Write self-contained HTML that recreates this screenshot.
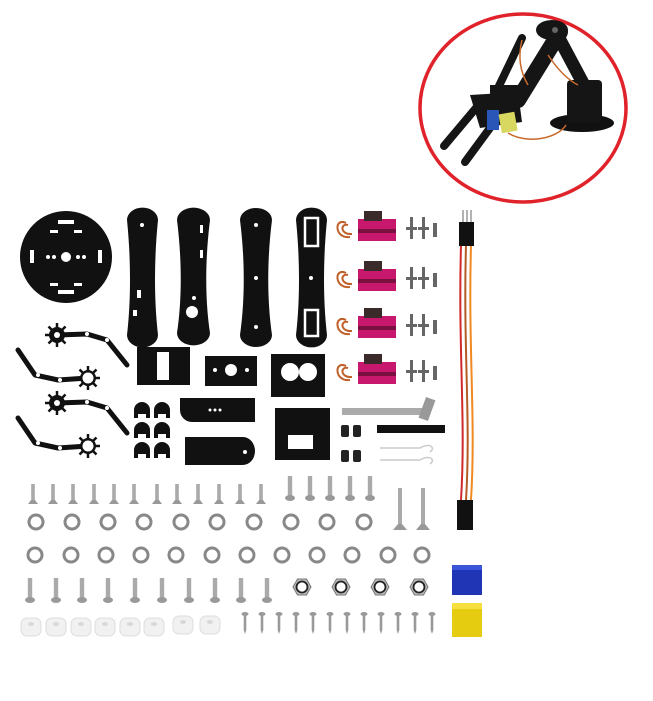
<!DOCTYPE html>
<html><head><meta charset="utf-8"><style>html,body{margin:0;padding:0;background:#fff}svg{display:block}</style></head>
<body>
<svg width="653" height="701" viewBox="0 0 653 701" xmlns="http://www.w3.org/2000/svg">
<defs>
<g id="gearA"><circle r="8" fill="#111"/><g stroke="#111" stroke-width="2.5"><line x1="-12" y1="0" x2="12" y2="0"/><line x1="0" y1="-12" x2="0" y2="12"/><line x1="-8.5" y1="-8.5" x2="8.5" y2="8.5"/><line x1="-8.5" y1="8.5" x2="8.5" y2="-8.5"/></g><circle r="3" fill="#fff"/></g>
<g id="gearB"><g stroke="#111" stroke-width="2.5"><line x1="-12" y1="0" x2="12" y2="0"/><line x1="0" y1="-12" x2="0" y2="12"/><line x1="-8.5" y1="-8.5" x2="8.5" y2="8.5"/><line x1="-8.5" y1="8.5" x2="8.5" y2="-8.5"/></g><circle r="8" fill="#111"/><circle r="5.5" fill="#fff"/></g>
<g id="servo"><path d="M-4,8 c-12,-6 -12,16 4,14 M-2,10 c-8,-2 -8,10 4,9" stroke="#c0602a" stroke-width="2" fill="none"/><rect x="8" y="4" width="38" height="22" fill="#c8186e"/><rect x="14" y="-4" width="18" height="10" fill="#3a2a2a"/><rect x="8" y="14" width="38" height="4" fill="#7a1040"/><g fill="#666"><rect x="60" y="2" width="3" height="22"/><rect x="72" y="2" width="3" height="22"/><rect x="83" y="8" width="4" height="14"/><rect x="56" y="12" width="11" height="3"/><rect x="68" y="12" width="11" height="3"/></g></g>
<g id="fscrew"><rect x="-1.8" y="0" width="3.6" height="16" fill="#aaa"/><path d="M-5,20 L5,20 L2,16 L-2,16Z" fill="#999"/></g>
<g id="pscrew"><rect x="-2.2" y="0" width="4.4" height="20" fill="#aaa"/><ellipse cx="0" cy="22" rx="5" ry="3" fill="#999"/></g>
<g id="nut"><circle r="7" fill="none" stroke="#888" stroke-width="3"/></g>
<g id="lnut"><polygon points="-9,0 -4.5,-8 4.5,-8 9,0 4.5,8 -4.5,8" fill="#bbb" stroke="#777"/><circle r="5.5" fill="#fff" stroke="#222" stroke-width="1.8"/></g>
<g id="sscrew"><ellipse cx="0" cy="0" rx="3.5" ry="2" fill="#999"/><rect x="-1.3" y="0" width="2.6" height="16" fill="#999"/><path d="M-1.3,16 L0,20 L1.3,16Z" fill="#999"/></g>
<g id="spacer"><rect x="-10" y="-9" width="20" height="18" rx="6" fill="#f1f1f1" stroke="#ddd"/><ellipse cx="0" cy="-3" rx="3" ry="2" fill="#d8d8d8"/></g>
<g id="cap"><path d="M-8,8 L-8,0 A8,8 0 0 1 8,0 L8,8 L4,8 L4,4 L-4,4 L-4,8Z" fill="#111"/></g>
</defs>

<!-- top robot arm circle -->
<ellipse cx="523" cy="108" rx="103" ry="94" fill="#fff" stroke="#e0222a" stroke-width="3.5"/>
<ellipse cx="582" cy="123" rx="32" ry="9" fill="#111"/>
<g stroke="#151515" stroke-linecap="round" fill="none">
<line x1="560" y1="32" x2="518" y2="100" stroke-width="16"/>
<line x1="560" y1="40" x2="592" y2="100" stroke-width="13"/>
<line x1="522" y1="38" x2="498" y2="88" stroke-width="8"/>
<line x1="476" y1="108" x2="444" y2="146" stroke-width="8"/>
<line x1="490" y1="128" x2="465" y2="162" stroke-width="8"/>
</g>
<g fill="#151515">
<ellipse cx="552" cy="30" rx="16" ry="10"/>
<rect x="567" y="80" width="35" height="43" rx="4"/>
<polygon points="470,95 518,92 522,122 480,128"/>
<rect x="490" y="85" width="30" height="14"/>
</g>
<rect x="487" y="110" width="12" height="20" fill="#2a56b8"/>
<rect x="500" y="113" width="16" height="19" fill="#d8d860" transform="rotate(-10 508 122)"/>
<path d="M508,133 c20,12 50,5 58,-8" stroke="#c86a2a" stroke-width="1.5" fill="none"/>
<path d="M522,40 c-5,20 0,35 6,45 M548,55 c10,15 20,25 30,30" stroke="#c86a2a" stroke-width="1.5" fill="none"/>
<circle cx="555" cy="30" r="3" fill="#666"/>

<!-- base plate -->
<circle cx="66" cy="257" r="46" fill="#111"/>
<g fill="#fff"><circle cx="66" cy="257" r="5"/><circle cx="54" cy="257" r="2"/><circle cx="78" cy="257" r="2"/><circle cx="48" cy="257" r="2"/><circle cx="84" cy="257" r="2"/>
<rect x="30" y="250" width="4" height="13"/><rect x="98" y="250" width="4" height="13"/>
<rect x="58" y="220" width="16" height="4"/><rect x="58" y="290" width="16" height="4"/>
<rect x="50" y="230" width="8" height="3"/><rect x="74" y="230" width="8" height="3"/><rect x="50" y="283" width="8" height="3"/><rect x="74" y="283" width="8" height="3"/></g>

<!-- bars -->
<g fill="#111">
<path d="M127,220 a15,12 0 0 1 31,0 c-4,40 -4,80 0,115 a15,12 0 0 1 -31,0 c4,-35 4,-75 0,-115Z"/>
<path d="M177,220 a16,12 0 0 1 33,0 c-5,40 -5,80 0,113 a16,12 0 0 1 -33,0 c5,-33 5,-73 0,-113Z"/>
<path d="M240,220 a16,12 0 0 1 32,0 c-5,40 -5,80 0,115 a16,12 0 0 1 -32,0 c5,-35 5,-75 0,-115Z"/>
<path d="M296,220 a15,12 0 0 1 31,0 c-4,40 -4,80 0,115 a15,12 0 0 1 -31,0 c4,-35 4,-75 0,-115Z"/>
</g>
<g fill="#fff"><circle cx="142" cy="225" r="2"/><rect x="137" y="290" width="4" height="8"/><rect x="133" y="310" width="4" height="6"/><circle cx="192" cy="312" r="6"/><circle cx="194" cy="298" r="2"/><rect x="200" y="225" width="3" height="8"/><rect x="200" y="250" width="3" height="8"/><circle cx="256" cy="225" r="2"/><circle cx="256" cy="278" r="2"/><circle cx="256" cy="327" r="2"/><rect x="305" y="218" width="13" height="28" fill="none" stroke="#fff" stroke-width="2.5"/><rect x="305" y="310" width="13" height="26" fill="none" stroke="#fff" stroke-width="2.5"/><circle cx="311" cy="278" r="2"/></g>

<!-- fingers -->
<g stroke="#111" stroke-width="5" fill="none" stroke-linecap="round" stroke-linejoin="round">
<polyline points="57,335 87,334 107,340 127,365"/>
<polyline points="18,350 35,375 58,380 88,378"/>
<polyline points="57,403 87,402 107,408 127,433"/>
<polyline points="18,418 35,443 58,448 88,446"/>
</g>
<g fill="#fff"><circle cx="87" cy="334" r="2"/><circle cx="107" cy="340" r="2"/><circle cx="38" cy="375" r="2"/><circle cx="60" cy="380" r="2"/><circle cx="87" cy="402" r="2"/><circle cx="107" cy="408" r="2"/><circle cx="38" cy="443" r="2"/><circle cx="60" cy="448" r="2"/></g>
<use href="#gearA" x="57" y="335"/><use href="#gearB" x="88" y="378"/>
<use href="#gearA" x="57" y="403"/><use href="#gearB" x="88" y="446"/>

<!-- brackets -->
<g fill="#111">
<rect x="137" y="347" width="53" height="38"/>
<rect x="205" y="356" width="52" height="30"/>
<rect x="271" y="354" width="54" height="43"/>
<rect x="275" y="408" width="55" height="52"/>
<path d="M180,398 L255,398 L255,422 L192,422 A12,12 0 0 1 180,410Z"/>
<path d="M185,437 L243,437 A12,14 0 0 1 243,465 L185,465Z"/>
</g>
<g fill="#fff"><rect x="157" y="352" width="12" height="28"/><circle cx="231" cy="370" r="6"/><circle cx="215" cy="370" r="2"/><circle cx="247" cy="370" r="2"/><circle cx="290" cy="372" r="9"/><circle cx="308" cy="372" r="9"/><rect x="288" y="435" width="25" height="14"/><circle cx="210" cy="410" r="1.5"/><circle cx="215" cy="410" r="1.5"/><circle cx="220" cy="410" r="1.5"/><circle cx="245" cy="452" r="2"/></g>
<use href="#cap" x="142" y="410"/><use href="#cap" x="162" y="410"/><use href="#cap" x="142" y="430"/><use href="#cap" x="162" y="430"/><use href="#cap" x="142" y="450"/><use href="#cap" x="162" y="450"/>

<!-- servos -->
<use href="#servo" x="350" y="215"/><use href="#servo" x="350" y="265"/><use href="#servo" x="350" y="312"/><use href="#servo" x="350" y="358"/>

<!-- wrench etc -->
<rect x="342" y="408" width="80" height="7" fill="#aaa"/><rect x="422" y="398" width="10" height="22" fill="#999" transform="rotate(20 427 409)"/>
<rect x="341" y="425" width="8" height="12" rx="2" fill="#222"/><rect x="353" y="425" width="8" height="12" rx="2" fill="#222"/><rect x="341" y="450" width="8" height="12" rx="2" fill="#222"/><rect x="353" y="450" width="8" height="12" rx="2" fill="#222"/>
<rect x="377" y="425" width="68" height="8" fill="#111"/>
<path d="M380,448 L420,448 c10,-6 16,0 10,4 M380,460 L420,460 c10,-6 16,0 10,4" stroke="#ccc" stroke-width="1.5" fill="none"/>

<!-- wire -->
<path d="M461,245 C458,350 466,420 461,500" stroke="#d02a2a" stroke-width="2" fill="none"/>
<path d="M466,245 C463,350 471,420 466,500" stroke="#b55a25" stroke-width="2" fill="none"/>
<path d="M471,245 C468,350 476,420 471,500" stroke="#f08a20" stroke-width="2" fill="none"/>
<rect x="459" y="222" width="15" height="24" fill="#111"/><g stroke="#999" stroke-width="1.5"><line x1="463" y1="210" x2="463" y2="222"/><line x1="467" y1="210" x2="467" y2="222"/><line x1="471" y1="210" x2="471" y2="222"/></g>
<rect x="457" y="500" width="16" height="30" fill="#111"/>

<!-- hardware rows -->
<g>
<use href="#fscrew" x="33" y="484"/><use href="#fscrew" x="53" y="484"/><use href="#fscrew" x="73" y="484"/><use href="#fscrew" x="94" y="484"/><use href="#fscrew" x="114" y="484"/><use href="#fscrew" x="134" y="484"/><use href="#fscrew" x="157" y="484"/><use href="#fscrew" x="177" y="484"/><use href="#fscrew" x="198" y="484"/><use href="#fscrew" x="219" y="484"/><use href="#fscrew" x="240" y="484"/><use href="#fscrew" x="261" y="484"/>
<use href="#pscrew" x="290" y="476"/><use href="#pscrew" x="310" y="476"/><use href="#pscrew" x="330" y="476"/><use href="#pscrew" x="350" y="476"/><use href="#pscrew" x="370" y="476"/>
<rect x="398" y="488" width="4" height="38" fill="#aaa"/><path d="M393,530 L407,530 L402,524 L398,524Z" fill="#999"/>
<rect x="421" y="488" width="4" height="38" fill="#aaa"/><path d="M416,530 L430,530 L425,524 L421,524Z" fill="#999"/>
</g>
<g>
<use href="#nut" x="36" y="522"/><use href="#nut" x="72" y="522"/><use href="#nut" x="108" y="522"/><use href="#nut" x="144" y="522"/><use href="#nut" x="181" y="522"/><use href="#nut" x="217" y="522"/><use href="#nut" x="254" y="522"/><use href="#nut" x="291" y="522"/><use href="#nut" x="327" y="522"/><use href="#nut" x="364" y="522"/>
<use href="#nut" x="35" y="555"/><use href="#nut" x="71" y="555"/><use href="#nut" x="106" y="555"/><use href="#nut" x="141" y="555"/><use href="#nut" x="176" y="555"/><use href="#nut" x="212" y="555"/><use href="#nut" x="247" y="555"/><use href="#nut" x="282" y="555"/><use href="#nut" x="317" y="555"/><use href="#nut" x="352" y="555"/><use href="#nut" x="388" y="555"/><use href="#nut" x="422" y="555"/>
</g>
<g>
<use href="#pscrew" x="30" y="578"/><use href="#pscrew" x="56" y="578"/><use href="#pscrew" x="82" y="578"/><use href="#pscrew" x="108" y="578"/><use href="#pscrew" x="135" y="578"/><use href="#pscrew" x="162" y="578"/><use href="#pscrew" x="189" y="578"/><use href="#pscrew" x="215" y="578"/><use href="#pscrew" x="241" y="578"/><use href="#pscrew" x="267" y="578"/>
<use href="#lnut" x="302" y="587"/><use href="#lnut" x="341" y="587"/><use href="#lnut" x="380" y="587"/><use href="#lnut" x="419" y="587"/>
</g>
<g>
<use href="#spacer" x="31" y="627"/><use href="#spacer" x="56" y="627"/><use href="#spacer" x="81" y="627"/><use href="#spacer" x="105" y="627"/><use href="#spacer" x="130" y="627"/><use href="#spacer" x="154" y="627"/><use href="#spacer" x="183" y="625"/><use href="#spacer" x="210" y="625"/>
<use href="#sscrew" x="245" y="614"/><use href="#sscrew" x="262" y="614"/><use href="#sscrew" x="279" y="614"/><use href="#sscrew" x="296" y="614"/><use href="#sscrew" x="313" y="614"/><use href="#sscrew" x="330" y="614"/><use href="#sscrew" x="347" y="614"/><use href="#sscrew" x="364" y="614"/><use href="#sscrew" x="381" y="614"/><use href="#sscrew" x="398" y="614"/><use href="#sscrew" x="415" y="614"/><use href="#sscrew" x="432" y="614"/>
</g>
<rect x="452" y="565" width="30" height="30" fill="#1f35b5"/><rect x="452" y="565" width="30" height="5" fill="#3a55d8"/>
<rect x="452" y="603" width="30" height="34" fill="#e6cc10"/><rect x="452" y="603" width="30" height="6" fill="#f5e040"/>
</svg>
</body></html>
